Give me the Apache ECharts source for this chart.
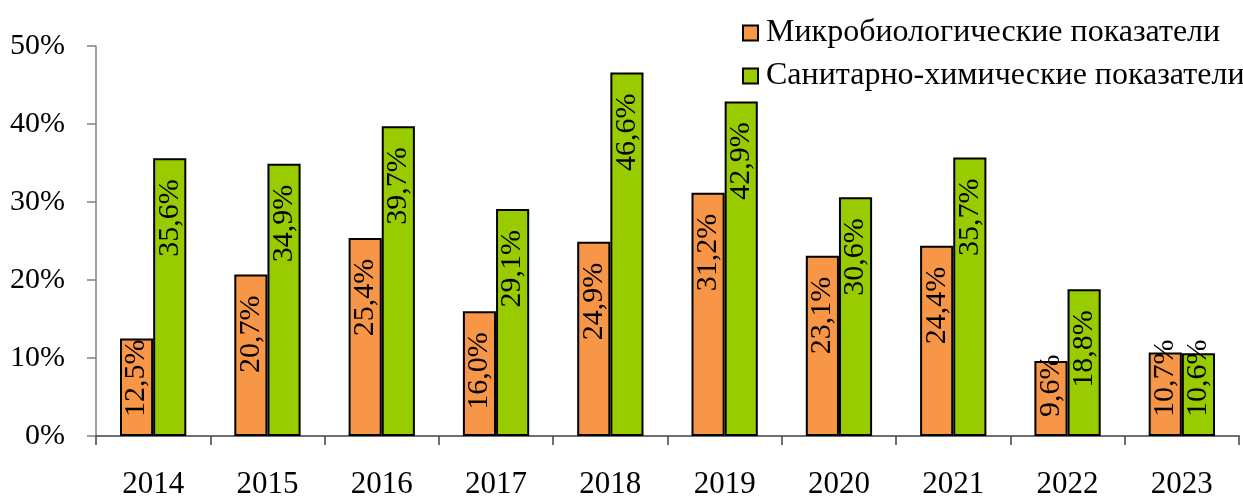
<!DOCTYPE html>
<html>
<head>
<meta charset="utf-8">
<script src="https://cdn.jsdelivr.net/npm/echarts@6/dist/echarts.min.js"></script>
<style>
  html, body { margin: 0; padding: 0; background: #fff; }
  #chart { width: 1243px; height: 496px; }
</style>
</head>
<body>
<div id="chart"></div>
<script>
const years = ['2014', '2015', '2016', '2017', '2018', '2019', '2020', '2021', '2022', '2023'];
const microValues = [12.5, 20.7, 25.4, 16.0, 24.9, 31.2, 23.1, 24.4, 9.6, 10.7];
const chemValues = [35.6, 34.9, 39.7, 29.1, 46.6, 42.9, 30.6, 35.7, 18.8, 10.6];
const seriesNames = ['Микробиологические показатели', 'Санитарно-химические показатели'];
const yTicks = [0, 10, 20, 30, 40, 50];

const font = '"Liberation Serif", "Times New Roman", serif';

// short bars: label sits near the base instead of the top (like Excel does)
function withLabels(values) {
    return values.map(function (v) {
        if (v < 15) {
            return {
                value: v,
                label: { position: 'insideBottom', align: 'left', distance: 19 }
            };
        }
        return v;
    });
}

function barLabel() {
    return {
        show: true,
        position: 'insideTop',
        rotate: 90,
        align: 'right',
        verticalAlign: 'middle',
        distance: 21,
        fontFamily: font,
        fontSize: 30,
        color: '#000',
        formatter: function (p) {
            return p.value.toFixed(1).replace('.', ',') + '%';
        }
    };
}

let myChart = echarts.init(document.getElementById('chart'));
myChart.setOption({
    animation: false,
    grid: {
        left: 96,
        right: 4,
        top: 46,
        bottom: 60,
        outerBoundsMode: 'none'
    },
    legend: {
        orient: 'vertical',
        left: 737,
        top: 12,
        itemWidth: 15,
        itemHeight: 15,
        itemGap: 11,
        icon: 'rect',
        textStyle: {
            fontFamily: font,
            fontSize: 32,
            color: '#000',
            padding: [0, 0, 0, 3]
        },
        data: seriesNames
    },
    xAxis: {
        type: 'category',
        data: years,
        axisLine: { lineStyle: { color: '#404040', width: 1.5 } },
        axisTick: { show: true, length: 9, lineStyle: { color: '#404040', width: 1.5 } },
        axisLabel: {
            fontFamily: font,
            fontSize: 31,
            color: '#000',
            margin: 33
        }
    },
    yAxis: {
        type: 'value',
        min: yTicks[0],
        max: yTicks[yTicks.length - 1],
        interval: 10,
        splitLine: { show: false },
        axisLine: { show: true, lineStyle: { color: '#808080', width: 1.5 } },
        axisTick: { show: true, length: 9, lineStyle: { color: '#808080', width: 1.5 } },
        axisLabel: {
            fontFamily: font,
            fontSize: 30,
            color: '#000',
            margin: 31,
            formatter: '{value}%'
        }
    },
    series: [
        {
            name: seriesNames[0],
            type: 'bar',
            data: withLabels(microValues),
            barGap: '0%',
            barCategoryGap: '42%',
            itemStyle: { color: '#F79646', borderColor: '#000', borderWidth: 2 },
            label: barLabel()
        },
        {
            name: seriesNames[1],
            type: 'bar',
            data: withLabels(chemValues),
            itemStyle: { color: '#99CC00', borderColor: '#000', borderWidth: 2 },
            label: barLabel()
        }
    ]
});
</script>
</body>
</html>
